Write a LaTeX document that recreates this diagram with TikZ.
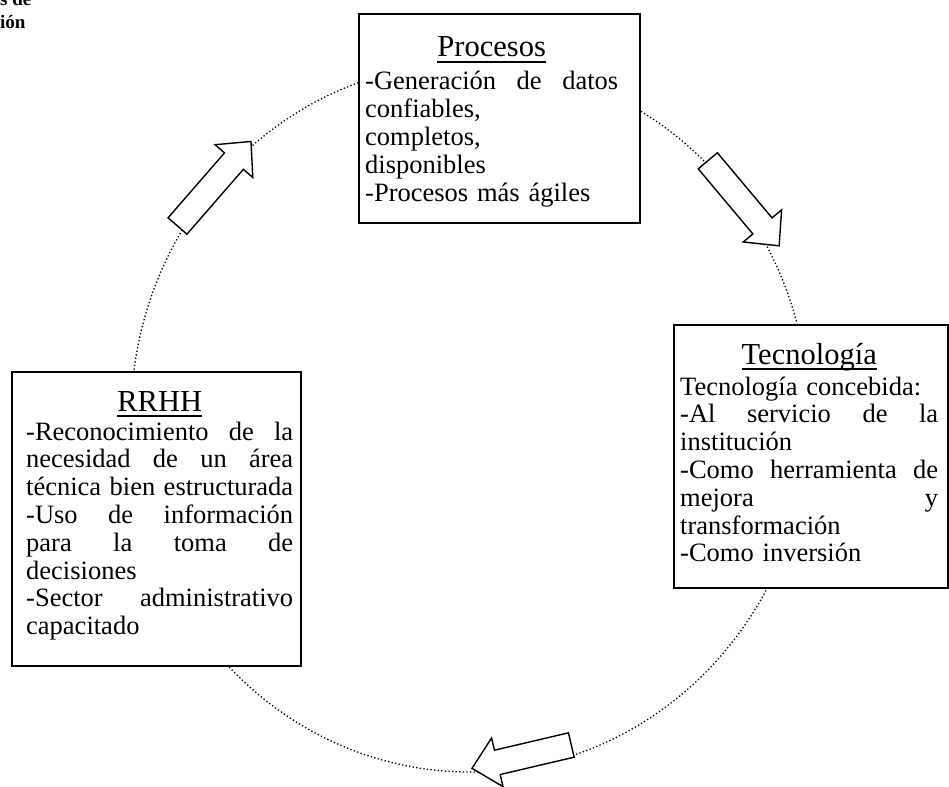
\documentclass[tikz,border=0pt]{standalone}
\usepackage{fontspec}
\setmainfont{Liberation Serif}
\newcommand{\myul}[1]{\setbox0=\hbox{#1}\rlap{\vrule width \wd0 height -4.3pt depth 5.8pt}\box0}
\newcommand{\jl}[2]{\makebox[#1][l]{#2}}
\newcommand{\ttl}[2]{\makebox[#1][c]{\fontsize{30.5}{30.5}\selectfont\myul{#2}}}
\begin{document}
\begin{tikzpicture}[x=1pt,y=-1pt,
  boxframe/.style={draw,line width=1.6pt,fill=white,inner sep=0pt,anchor=north west},
  boxtext/.style={inner sep=0pt,anchor=base west,align=left,font=\fontsize{26.5}{27.8}\selectfont},
  cuttext/.style={inner sep=0pt,anchor=base west,font=\bfseries\fontsize{19}{19}\selectfont},
  orbit/.style={line width=1.3pt,dash pattern=on 1.3pt off 2.3pt},
  arrowline/.style={draw,fill=white,line width=1.4pt,line join=miter},
  blockarrow/.pic={\path[arrowline] (0,-12.5) -- ({#1-26},-12.5) -- ({#1-26},-25) -- (#1,0) -- ({#1-26},25) -- ({#1-26},12.5) -- (0,12.5) -- cycle;}
]
\useasboundingbox (0,0) rectangle (949,786);

% top-left cut-off caption
\node[cuttext] (cut1) at (0,6) {s de};
\node[cuttext] (cut2) at (0,29) {ión};

% dotted cycle
\draw[orbit] (470,417.5) ellipse [x radius=339pt, y radius=354.5pt];

% box frames
\node[boxframe, minimum width=281pt, minimum height=209pt] (pbox) at (358,13) {};
\node[boxframe, minimum width=274pt, minimum height=263pt] (tbox) at (673,324) {};
\node[boxframe, minimum width=289pt, minimum height=294pt] (rbox) at (11,371) {};

% block arrows
\pic[rotate=49] (a1) at (177.5,226) {blockarrow=112};
\pic[rotate=-50] (a2) at (707.8,160.8) {blockarrow=111};
\pic[rotate=193.2] (a3) at (571.3,745) {blockarrow=102};

% texts
\node[boxtext, text width=253pt] (ptext) at (365,57) {%
\ttl{253pt}{Procesos}\\[5.2pt]
\jl{253pt}{-Generación\hfill de\hfill datos}\\
confiables,\\
completos,\\
disponibles\\
-Procesos más ágiles};

\node[boxtext, text width=258pt] (ttext) at (680,364) {%
\ttl{258pt}{Tecnología}\\[3.2pt]
Tecnología concebida:\\
\jl{258pt}{-Al\hfill servicio\hfill de\hfill la}\\
institución\\
\jl{258pt}{-Como\hfill herramienta\hfill de}\\
\jl{258pt}{mejora\hfill y}\\
transformación\\
-Como inversión};

\node[boxtext, text width=267pt] (rtext) at (26,411) {%
\ttl{267pt}{RRHH}\\[1.2pt]
\jl{267pt}{-Reconocimiento\hfill de\hfill la}\\
\jl{267pt}{necesidad\hfill de\hfill un\hfill área}\\
\jl{267pt}{técnica\hfill bien\hfill estructurada}\\
\jl{267pt}{-Uso\hfill de\hfill información}\\
\jl{267pt}{para\hfill la\hfill toma\hfill de}\\
decisiones\\
\jl{267pt}{-Sector\hfill administrativo}\\
capacitado};
\end{tikzpicture}
\end{document}
